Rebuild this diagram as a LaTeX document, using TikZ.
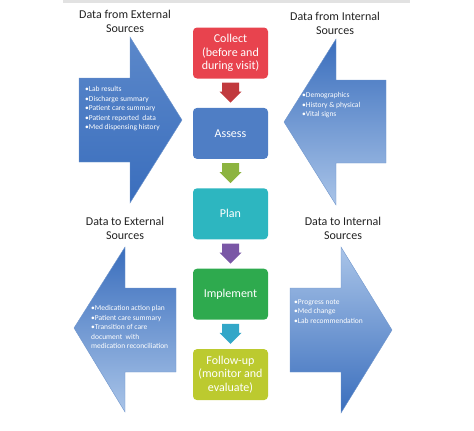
\documentclass[tikz,border=0pt]{standalone}
\usepackage{fontspec}
\setmainfont{Carlito}
\usetikzlibrary{arrows.meta,positioning,calc}
\definecolor{ink}{HTML}{222222}
\definecolor{collectRed}{HTML}{E8434E}
\definecolor{assessBlue}{HTML}{4F7EC5}
\definecolor{planTeal}{HTML}{2DB6C0}
\definecolor{implGreen}{HTML}{2EAA4E}
\definecolor{followLime}{HTML}{BCCA2F}
\definecolor{arrowRed}{HTML}{C13A3E}
\definecolor{arrowGreen}{HTML}{8DB440}
\definecolor{arrowPurple}{HTML}{7A57A6}
\definecolor{arrowTeal}{HTML}{33A7C8}
\definecolor{deepBlue}{HTML}{3A6EBD}
\definecolor{paleBlue}{HTML}{A9C4E8}
\definecolor{edgeBlue}{HTML}{7096CC}
\definecolor{barGray}{HTML}{E2E2E2}

\tikzset{
  pics/flowarrow/.style={code={
    \fill (-8.5,0) -- (8.5,0) -- (8.5,9) -- (11,9) -- (0,20) -- (-11,9) -- (-8.5,9) -- cycle;
  }}
}

\begin{document}
\begin{tikzpicture}[
    x=1pt, y=-1pt,
    stage/.style={rounded corners=4pt, minimum width=75pt, minimum height=51pt, inner sep=1pt, align=center, text=white, font=\fontsize{12}{13.4}\selectfont},
    bigarrow/.style={draw=edgeBlue, line width=0.4pt},
    datalist/.style={anchor=north west, align=left, inner sep=0pt, text=white, font=\fontsize{7.5}{9.4}\selectfont},
    heading/.style={align=center, inner sep=0pt, text=ink, font=\fontsize{12}{14}\selectfont}
  ]
    \useasboundingbox (0,0) rectangle (474,431);
    \fill[barGray] (63,0) rectangle (410,2.5);

    % Side arrows
    \shade[bigarrow, top color=deepBlue!70!paleBlue, bottom color=deepBlue] (79,78) -- (130,78) -- (130,37) -- (182,120) -- (130,203) -- (130,162) -- (79,162) -- cycle;
    \shade[bigarrow, top color=deepBlue, bottom color=paleBlue] (284,122) -- (336,39) -- (336,80) -- (386,80) -- (386,163) -- (336,163) -- (336,205) -- cycle;
    \shade[bigarrow, top color=deepBlue, bottom color=paleBlue] (74,328) -- (125,247) -- (125,288) -- (176,288) -- (176,372) -- (125,372) -- (125,412) -- cycle;
    \shade[bigarrow, top color=paleBlue, bottom color=deepBlue] (290,288) -- (341,288) -- (341,247) -- (392,330) -- (341,413) -- (341,372) -- (290,372) -- cycle;

    % Headings and lists
    \node[heading] (fromExt) at (125,21) {Data from External\\Sources};
    \node[heading] (fromInt) at (335,23.5) {Data from Internal\\Sources};
    \node[heading] (toExt) at (125,228.5) {Data to External\\Sources};
    \node[heading] (toInt) at (343,228.5) {Data to Internal\\Sources};

    \node[datalist] (fromExtList) at (85,86.5) {•Lab results\\•Discharge summary\\•Patient care summary\\•Patient reported~ data\\•Med dispensing history};
    \node[datalist] (fromIntList) at (302,92.5) {•Demographics\\•History \& physical\\•Vital signs};
    \node[datalist] (toExtList) at (91,305.5) {•Medication action plan\\•Patient care summary\\•Transition of care\\document~ with\\medication reconciliation};
    \node[datalist] (toIntList) at (294,299.5) {•Progress note\\•Med change\\•Lab recommendation};

    % Stages
    \node[stage, fill=collectRed] (collect) at (230.5,53) {Collect\\(before and\\during visit)};
    \node[stage, fill=assessBlue, below=29pt of collect] (assess) {Assess};
    \node[stage, fill=planTeal, below=29pt of assess] (plan) {Plan};
    \node[stage, fill=implGreen, below=29pt of plan] (implement) {Implement};
    \node[stage, fill=followLime, below=29pt of implement] (followup) {Follow-up\\(monitor and\\evaluate)};

    % Flow arrows
    \pic[fill=arrowRed] at ($(collect.south)+(0,4)$) {flowarrow};
    \pic[fill=arrowGreen] at ($(assess.south)+(0,4)$) {flowarrow};
    \pic[fill=arrowPurple] at ($(plan.south)+(0,4)$) {flowarrow};
    \pic[fill=arrowTeal] at ($(implement.south)+(0,4)$) {flowarrow};
  \end{tikzpicture}
\end{document}
